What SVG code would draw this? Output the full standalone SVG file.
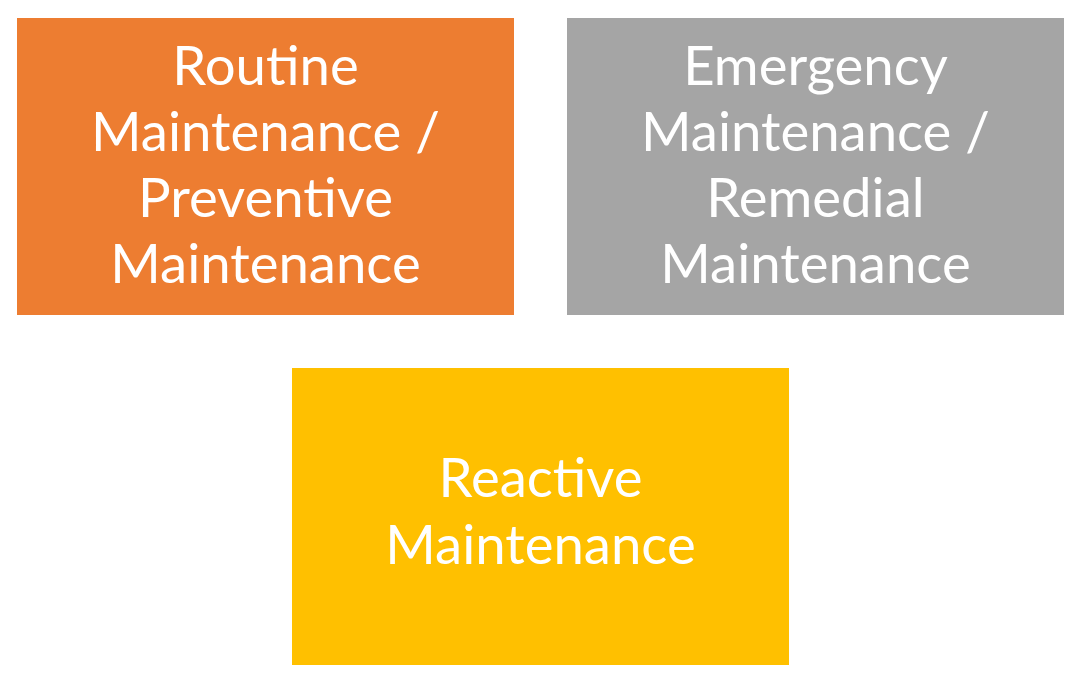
<svg xmlns="http://www.w3.org/2000/svg" width="1078" height="680" viewBox="0 0 1078 680">
<style>
.t{font-family:"Lato","Open Sans","Liberation Sans",sans-serif;font-size:54.5px;fill:#FFFFFF;text-anchor:middle}
</style>
<rect width="1078" height="680" fill="#FFFFFF"/>
<g id="routine">
<rect x="17" y="18" width="497" height="297" fill="#ED7D31"/>
<text class="t"><tspan x="265.5" y="85">Routine</tspan><tspan x="265.5" y="151">Maintenance /</tspan><tspan x="265.5" y="217">Preventive</tspan><tspan x="265.5" y="283">Maintenance</tspan></text>
</g>
<g id="emergency">
<rect x="567" y="18" width="497" height="297" fill="#A5A5A5"/>
<text class="t"><tspan x="815.5" y="85">Emergency</tspan><tspan x="815.5" y="151">Maintenance /</tspan><tspan x="815.5" y="217">Remedial</tspan><tspan x="815.5" y="283">Maintenance</tspan></text>
</g>
<g id="reactive">
<rect x="292" y="368" width="497" height="297" fill="#FFC000"/>
<text class="t"><tspan x="540.5" y="497">Reactive</tspan><tspan x="540.5" y="564">Maintenance</tspan></text>
</g>
<g id="connectors"/>
</svg>
